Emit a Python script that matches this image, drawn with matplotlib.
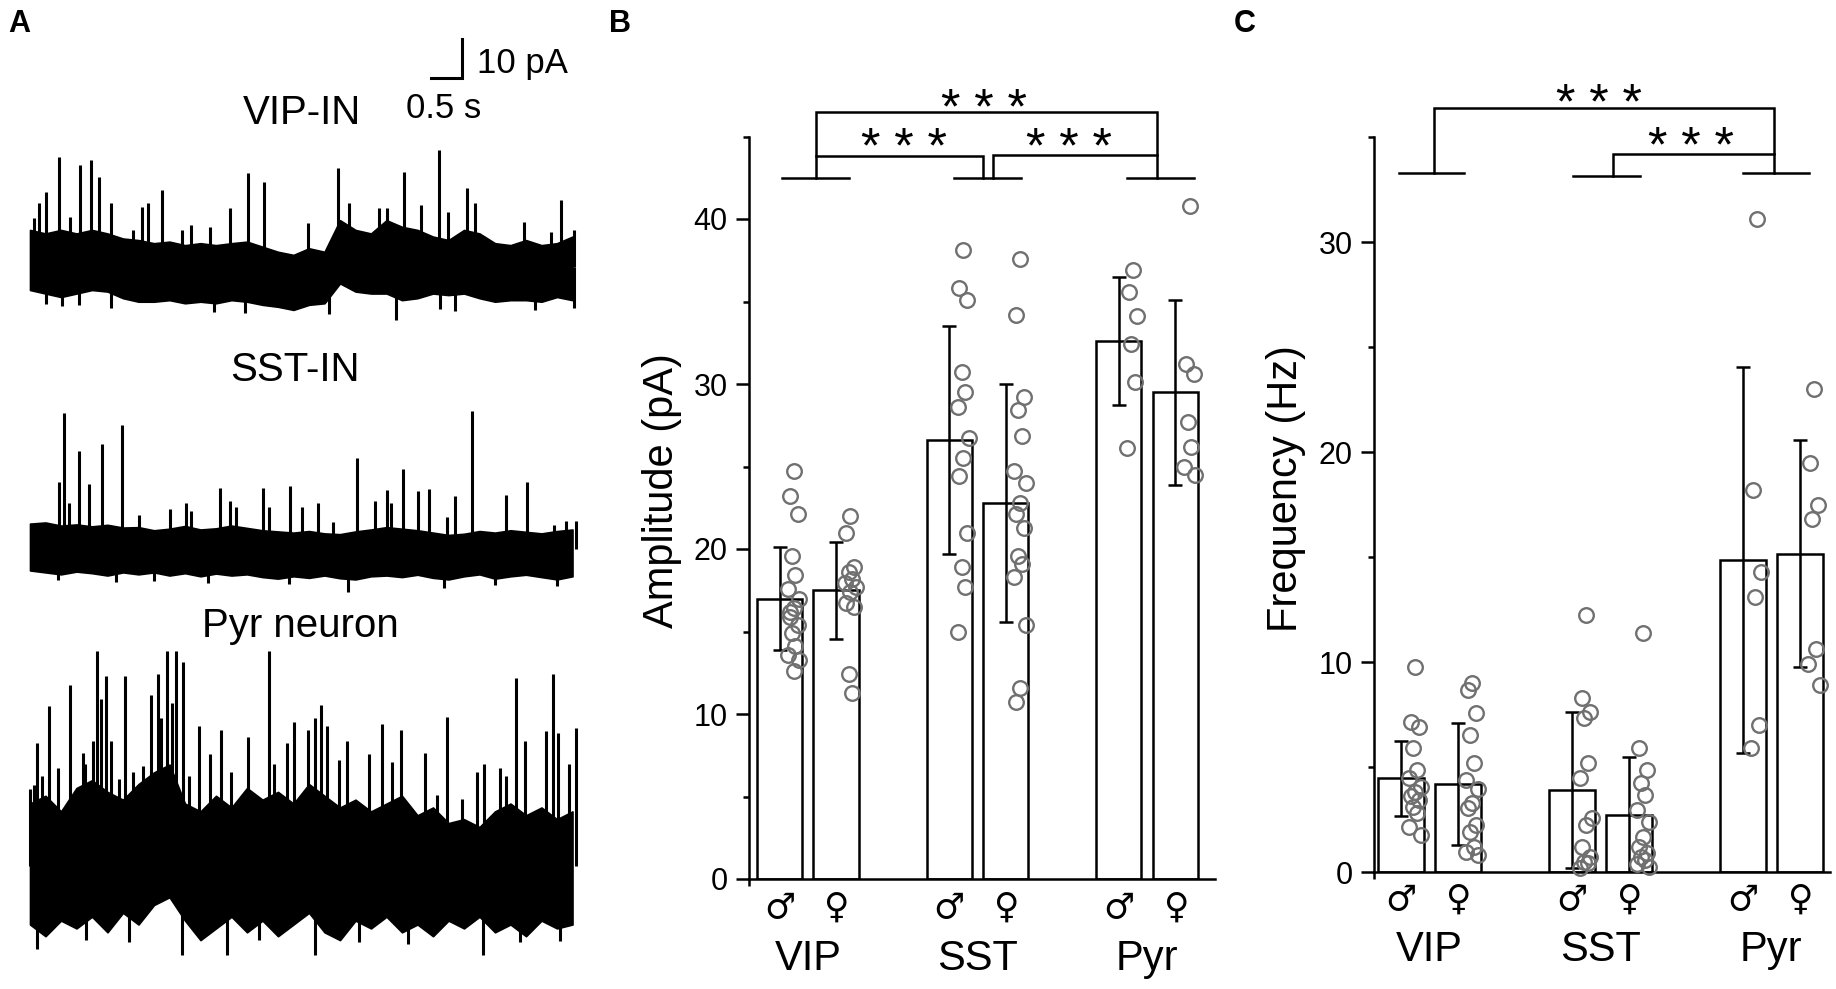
import numpy as np
import matplotlib
matplotlib.use('Agg')
import matplotlib.pyplot as plt

plt.rcParams['font.family'] = ['Liberation Sans', 'DejaVu Sans']

W, H = 1836, 989

# ---------------- panel A : example traces (s, pA relative to baseline) ----------------
env_t = np.arange(36) * 0.25

vip_up = [9.5, 8.6, 9.5, 8.6, 9.5, 8.6, 7.3, 6.9, 6.1, 6.5, 5.6, 6.1, 5.6, 6.1, 6.5, 5.2, 3.9, 3.1,
          4.8, 3.9, 12.0, 9.5, 8.6, 12.0, 10.3, 9.5, 7.8, 6.9, 9.5, 8.6, 6.1, 5.6, 6.9, 5.6, 6.1, 7.8]
vip_lo = [-5.9, -6.8, -7.7, -6.8, -5.9, -6.3, -8.0, -8.9, -8.9, -8.5, -9.3, -8.9, -9.3, -8.5, -8.9, -9.7, -10.2, -11.0,
          -9.7, -9.3, -4.2, -6.3, -6.8, -6.8, -8.5, -8.0, -6.8, -7.2, -6.8, -8.0, -8.9, -8.5, -8.5, -8.9, -7.7, -8.5]
vip_ev_t = [0.06, 0.15, 0.26, 0.47, 0.64, 0.80, 0.98, 1.11, 1.31, 1.66, 1.80, 1.91, 2.13, 2.45, 2.59, 2.90, 3.22,
            3.52, 3.77, 4.49, 4.97, 5.15, 5.63, 5.75, 6.03, 6.31, 6.60, 6.74, 7.05, 7.17, 7.97, 8.40, 8.56, 8.77]
vip_ev_amp = [12.5, 16.3, 19.3, 28.3, 12.9, 26.2, 27.4, 23.2, 16.3, 9.5, 15.5, 16.3, 19.7, 9.5, 10.8, 10.3, 15.0,
              24.0, 21.9, 11.2, 25.3, 16.3, 15.0, 15.0, 24.4, 15.9, 30.0, 14.2, 20.2, 16.3, 11.6, 9.1, 17.2, 9.5]
vip_dip_t = [0.26, 0.51, 0.79, 1.31, 2.97, 3.47, 4.83, 5.9, 6.61, 6.86, 8.15, 8.77]
vip_dip_amp = [-9.5, -10.0, -9.8, -10.5, -11.5, -11.8, -12.0, -13.5, -10.8, -11.2, -11.0, -10.5]

sst_up = [6.5, 6.8, 6.0, 6.3, 5.8, 6.2, 5.5, 5.6, 4.8, 5.2, 5.9, 5.0, 5.3, 6.0, 5.4, 4.8, 4.5, 4.2,
          4.6, 4.0, 3.8, 4.5, 5.0, 5.6, 5.2, 4.8, 4.2, 3.6, 3.9, 4.6, 4.2, 4.8, 4.4, 4.0, 4.6, 5.0]
sst_lo = [-5.5, -6.0, -6.5, -5.8, -6.2, -6.8, -6.0, -6.5, -6.0, -6.8, -6.2, -7.0, -6.3, -6.8, -6.5, -7.2, -7.6, -7.0,
          -7.4, -6.8, -7.5, -7.8, -7.0, -6.8, -7.2, -6.6, -7.4, -7.8, -7.0, -6.5, -7.6, -7.0, -6.6, -7.2, -7.8, -7.0]
sst_ev_t = [0.46, 0.55, 0.63, 0.79, 0.95, 1.16, 1.48, 1.76, 2.25, 2.51, 2.60, 3.07, 3.23, 3.32, 3.75, 3.85, 4.20,
            4.39, 4.65, 4.88, 5.27, 5.56, 5.75, 5.83, 6.02, 6.25, 6.43, 6.72, 6.85, 7.13, 7.68, 8.01, 8.45, 8.64, 8.80]
sst_ev_amp = [17.2, 35.0, 11.8, 25.1, 16.7, 26.8, 31.7, 8.8, 10.3, 11.8, 9.8, 15.7, 12.3, 10.8, 15.7, 10.8, 16.2,
              10.8, 11.8, 6.8, 23.4, 12.3, 15.2, 11.8, 20.5, 14.9, 15.5, 8.3, 13.7, 35.3, 13.9, 17.2, 6.1, 7.3, 7.3]
sst_dip_t = [0.45, 1.38, 2.0, 2.87, 4.17, 5.13, 6.68, 7.5, 8.5]
sst_dip_amp = [-8.0, -8.5, -8.2, -8.8, -9.0, -11.0, -9.9, -9.2, -9.5]

pyr_up = [16, 18, 14, 20, 22, 19, 17, 21, 24, 26, 16, 14, 18, 15, 20, 17, 19, 16,
          21, 18, 15, 17, 14, 16, 18, 13, 15, 11, 12, 10, 14, 16, 13, 15, 12, 14]
pyr_lo = [-15, -18, -14, -16, -13, -17, -12, -15, -10, -8, -14, -19, -16, -13, -17, -14, -18, -15,
          -12, -17, -19, -14, -16, -13, -17, -15, -18, -14, -16, -13, -17, -15, -18, -14, -16, -15]
pyr_ev_t = [0.00, 0.06, 0.12, 0.20, 0.31, 0.45, 0.65, 0.76, 0.85, 0.89, 1.02, 1.08, 1.14, 1.23, 1.31, 1.44,
            1.53, 1.66, 1.82, 1.95, 2.07, 2.12, 2.21, 2.29, 2.36, 2.47, 2.56, 2.73, 2.90, 3.08, 3.24, 3.52,
            3.85, 3.93, 4.14, 4.26, 4.48, 4.60, 4.70, 4.79, 4.98, 5.11, 5.46, 5.67, 5.84, 5.99, 6.37, 6.56,
            6.73, 6.96, 7.21, 7.32, 7.58, 7.67, 7.84, 7.98, 8.33, 8.43, 8.51, 8.69, 8.80]
pyr_ev_amp = [19.7, 20.7, 31.5, 23.2, 40.9, 25.1, 46.3, 16.3, 29.1, 26.1, 32.1, 55.2, 42.9, 48.8, 32.1, 22.2,
              48.8, 24.2, 25.6, 43.9, 49.3, 38.0, 55.2, 41.9, 55.2, 52.3, 23.2, 36.0, 28.6, 35.0, 24.2, 33.2,
              55.2, 26.1, 31.5, 37.0, 35.0, 38.0, 41.4, 36.0, 27.1, 32.1, 28.6, 36.5, 26.6, 35.0, 29.1, 18.2,
              38.2, 17.3, 24.2, 26.1, 25.1, 23.2, 48.3, 32.1, 34.5, 49.3, 34.0, 26.1, 35.5]
pyr_dip_t = [0.12, 0.9, 1.6, 2.45, 3.18, 3.7, 4.60, 5.3, 6.1, 7.30, 7.9, 8.55]
pyr_dip_amp = [-21.2, -19.0, -19.5, -22.7, -22.7, -19.0, -22.7, -19.5, -20.0, -22.7, -19.5, -19.2]

trace_names = ['VIP-IN', 'SST-IN', 'Pyr neuron']

# ---------------- panels B / C : bar data ----------------
groups = ['VIP', 'SST', 'Pyr']
sexes = ['\u2642', '\u2640']

amp_mean = [17.0, 17.5, 26.6, 22.8, 32.6, 29.5]
amp_sd = [3.1, 2.95, 6.9, 7.2, 3.9, 5.6]
amp_pts = [
    [24.7, 23.2, 22.1, 19.6, 18.4, 17.6, 17.0, 16.4, 15.9, 15.4, 14.9, 14.1, 13.6, 13.3, 12.6, 16.2],
    [22.0, 21.0, 18.9, 18.6, 18.2, 17.95, 17.7, 17.4, 16.75, 16.5, 12.4, 11.3],
    [38.1, 35.8, 35.1, 30.7, 29.5, 28.6, 26.7, 25.5, 24.4, 21.0, 18.9, 17.7, 15.0],
    [37.6, 34.2, 29.2, 28.4, 26.85, 24.7, 24.0, 22.8, 22.1, 21.3, 19.6, 19.1, 18.3, 15.4, 11.6, 10.7],
    [36.9, 35.6, 34.1, 32.4, 30.1, 26.1],
    [40.8, 31.2, 30.6, 27.7, 26.2, 25.0, 24.5],
]

freq_mean = [4.46, 4.18, 3.9, 2.71, 14.86, 15.15]
freq_sd = [1.8, 2.9, 3.7, 2.75, 9.2, 5.4]
freq_pts = [
    [9.78, 7.16, 6.92, 5.89, 4.86, 4.46, 4.06, 3.82, 3.6, 3.43, 3.11, 2.8, 2.16, 1.76],
    [9.0, 8.67, 7.56, 6.52, 5.17, 4.38, 3.94, 3.3, 3.03, 2.24, 1.92, 1.2, 0.97, 0.8],
    [12.24, 8.27, 7.63, 7.32, 5.17, 4.46, 2.56, 2.24, 1.2, 0.73, 0.5, 0.41, 0.17],
    [11.4, 5.89, 4.86, 4.22, 3.67, 2.95, 2.4, 1.68, 1.2, 0.9, 0.73, 0.57, 0.4, 0.25],
    [31.1, 18.2, 14.3, 13.1, 7.0, 5.9],
    [23.0, 19.5, 17.5, 16.8, 10.6, 9.9, 8.9],
]

LW = 1.8
DOT = '#707070'
jit = [0.25, 0.18, 0.32, 0.22, 0.28, 0.15, 0.35]


def fx(px):
    return px / W


def fy(py):
    return 1 - py / H


fig = plt.figure(figsize=(W / 100, H / 100), dpi=100)

# ---- panel A
axA = fig.add_axes([0, 0, 600 / W, 1])
axA.set_xlim(-30 / 62, 570 / 62)
axA.set_ylim(0, H / 3.9)
axA.axis('off')

traces = [
    (vip_up, vip_lo, vip_ev_t, vip_ev_amp, vip_dip_t, vip_dip_amp, (H - 267) / 3.9),
    (sst_up, sst_lo, sst_ev_t, sst_ev_amp, sst_dip_t, sst_dip_amp, (H - 549) / 3.9),
    (pyr_up, pyr_lo, pyr_ev_t, pyr_ev_amp, pyr_dip_t, pyr_dip_amp, (H - 866) / 3.9),
]
for up, lo, et, ea, dt, da, base in traces:
    axA.fill_between(env_t, base + np.array(lo), base + np.array(up), color='black', lw=1.2)
    axA.vlines(et, base, base + np.array(ea), color='black', lw=2.2)
    axA.vlines(dt, base, base + np.array(da), color='black', lw=2.2)

# scale bar 0.5 s / 10 pA
sb_x, sb_y = (462 - 30) / 62, (H - 78) / 3.9
axA.plot([sb_x - 0.5, sb_x, sb_x], [sb_y, sb_y, sb_y + 10], color='black', lw=2.2,
         solid_joinstyle='miter')
fig.text(fx(477), fy(63), '10 pA', fontsize=25, ha='left', va='center')
fig.text(fx(444), fy(108), '0.5 s', fontsize=25, ha='center', va='center')

for name, (px, py) in zip(trace_names, [(302, 113), (295, 370), (300, 626)]):
    fig.text(fx(px), fy(py), name, fontsize=29, ha='center', va='center')

fig.text(fx(8), fy(24), 'A', fontsize=22, fontweight='bold', ha='left', va='center')
fig.text(fx(609), fy(24), 'B', fontsize=22, fontweight='bold', ha='left', va='center')
fig.text(fx(1234), fy(24), 'C', fontsize=22, fontweight='bold', ha='left', va='center')


def bar_panel(rect, xlim, ylim, means, sds, pts, major, ylabel, ylab_xy, sym_dy, grp_dy):
    ax = fig.add_axes(rect)
    pos = [3 * g + s + 1 for g in range(len(groups)) for s in range(len(sexes))]
    ax.bar(pos, means, width=0.8, color='white', edgecolor='black', lw=LW, zorder=2)
    ax.errorbar(pos, means, yerr=sds, fmt='none', ecolor='black', elinewidth=LW,
                capsize=5, capthick=LW, zorder=3)
    for p, vals in zip(pos, pts):
        xs = [p + jit[i % len(jit)] for i in range(len(vals))]
        ax.plot(xs, vals, 'o', ms=10.5, mfc='none', mec=DOT, mew=1.7, zorder=4, clip_on=False)
    ax.set_xlim(*xlim)
    ax.set_ylim(*ylim)
    for s in ['top', 'right']:
        ax.spines[s].set_visible(False)
    for s in ['left', 'bottom']:
        ax.spines[s].set_linewidth(LW)
    ax.set_yticks(np.arange(0, ylim[1] + 0.1, major))
    ax.set_yticks(np.arange(major / 2, ylim[1] + 0.1, major), minor=True)
    ax.tick_params(axis='y', which='major', length=9.5, width=LW, labelsize=22, pad=6)
    ax.tick_params(axis='y', which='minor', length=4.5, width=LW)
    ax.set_xticks([xlim[0]])
    ax.tick_params(axis='x', length=5, width=LW, labelbottom=False)
    tr = ax.get_xaxis_transform()
    for g, gname in enumerate(groups):
        for s, sname in enumerate(sexes):
            ax.text(3 * g + s + 1, sym_dy, sname, transform=tr, fontsize=25,
                    family=['DejaVu Sans'], ha='center', va='center')
        ax.text(3 * g + 1.5, grp_dy, gname, transform=tr, fontsize=30, ha='center', va='center')
    fig.text(fx(ylab_xy[0]), fy(ylab_xy[1]), ylabel, rotation=90, fontsize=30,
             ha='center', va='center')
    return ax


def bracket(ax, xs, ys):
    ax.plot(xs, ys, color='black', lw=LW, clip_on=False, solid_joinstyle='miter')


def stars(ax, x, y):
    ax.text(x, y, '* * *', fontsize=36, ha='center', va='baseline', clip_on=False)


# ---- panel B
axB = bar_panel([749 / W, 1 - 879 / H, (1215 - 749) / W, (879 - 136.5) / H], (0.46, 8.7), (0, 45),
                amp_mean, amp_sd, amp_pts, 10, 'Amplitude (pA)', (662, 491), -0.039, -0.108)
for a, b in [(1.04, 2.22), (4.08, 5.27), (7.15, 8.33)]:
    bracket(axB, [a, b], [42.5, 42.5])
bracket(axB, [1.64, 1.64, 7.67, 7.67], [42.5, 46.5, 46.5, 42.5])
bracket(axB, [1.64, 4.59, 4.59], [43.8, 43.8, 42.5])
bracket(axB, [4.78, 4.78, 7.67], [42.5, 43.9, 43.9])
stars(axB, 4.62, 45.75)
stars(axB, 3.20, 43.4)
stars(axB, 6.11, 43.4)

# ---- panel C
axC = bar_panel([1374 / W, 1 - 872 / H, (1830 - 1374) / W, (872 - 137) / H], (0.53, 8.53), (0, 35),
                freq_mean, freq_sd, freq_pts, 10, 'Frequency (Hz)', (1286, 489), -0.038, -0.106)
for a, b, yy in [(0.96, 2.11, 33.29), (4.02, 5.20, 33.14), (7.01, 8.16, 33.29)]:
    bracket(axC, [a, b], [yy, yy])
bracket(axC, [1.58, 1.58, 7.54, 7.54], [33.29, 36.4, 36.4, 33.29])
bracket(axC, [4.72, 4.72, 7.54], [33.14, 34.2, 34.2])
stars(axC, 4.47, 35.86)
stars(axC, 6.09, 33.82)

fig.savefig('out.png', dpi=100)
